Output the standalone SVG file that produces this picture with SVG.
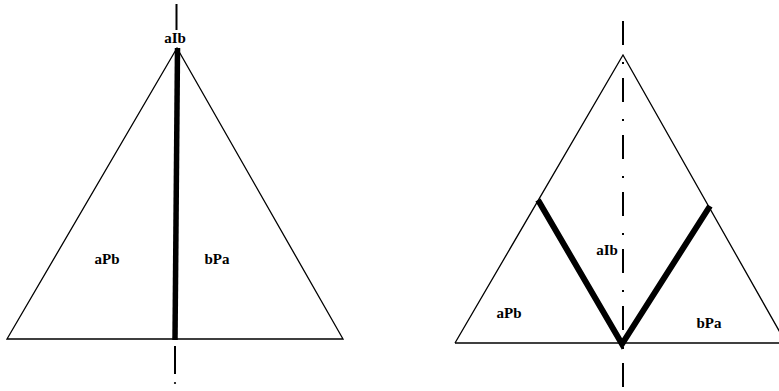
<svg xmlns="http://www.w3.org/2000/svg" width="779" height="391" viewBox="0 0 779 391">
<style>
.thin{fill:none;stroke:#000;stroke-width:1.3}
.thick{fill:none;stroke:#000;stroke-width:6;stroke-linejoin:miter;stroke-linecap:butt}
.axis{fill:none;stroke:#000;stroke-width:2}
.lbl{font-family:"Liberation Serif",serif;font-weight:bold;font-size:15px;fill:#000;text-anchor:middle}
</style>
<rect width="779" height="391" fill="#fff"/>
<g id="connectors">
<line class="axis" x1="176.5" y1="4" x2="176.5" y2="30"/>
<line class="axis" x1="175" y1="346" x2="175" y2="374"/>
<circle cx="175" cy="383" r="1.1" fill="#000"/>
<line class="axis" x1="623" y1="21" x2="623" y2="390" stroke-dasharray="24 17 2 14"/>
</g>
<g id="left-triangle">
<polygon class="thin" points="177,48 7,339 343,339"/>
<line class="thick" x1="177.5" y1="48" x2="175" y2="340" style="stroke-width:5.5"/>
<text class="lbl" x="175" y="43">aIb</text>
<text class="lbl" x="107" y="264">aPb</text>
<text class="lbl" x="217" y="264">bPa</text>
</g>
<g id="right-triangle">
<polyline class="thin" points="455,343 623,55 786,343"/>
<line class="thin" x1="455" y1="343" x2="779" y2="343"/>
<polyline class="thick" points="538,200 622,344 710,206"/>
<text class="lbl" x="607" y="255">aIb</text>
<text class="lbl" x="509" y="318">aPb</text>
<text class="lbl" x="709" y="328">bPa</text>
</g>
</svg>
